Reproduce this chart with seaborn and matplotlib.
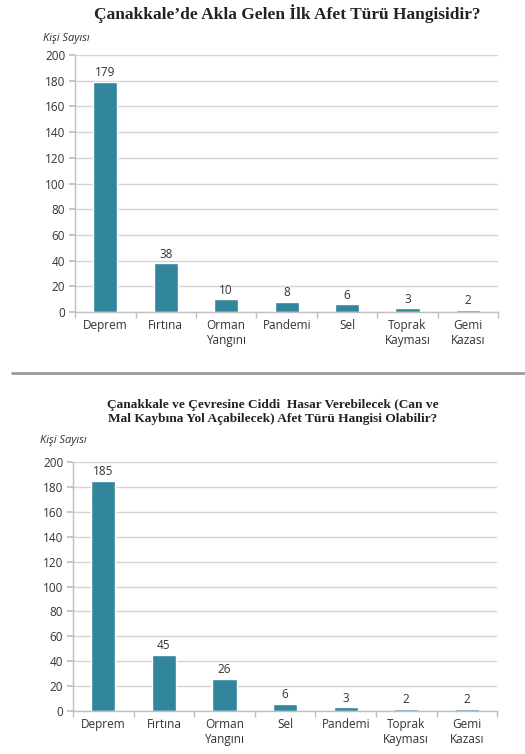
import pandas as pd
import matplotlib.pyplot as plt
import seaborn as sns
import numpy as np

# ilk grafik
afet1 = ['Deprem', 'Fırtına', 'Orman\nYangını', 'Pandemi', 'Sel', 'Toprak\nKayması', 'Gemi\nKazası']
sayi1 = [179, 38, 10, 8, 6, 3, 2]

# ikinci grafik
afet2 = ['Deprem', 'Fırtına', 'Orman\nYangını', 'Sel', 'Pandemi', 'Toprak\nKayması', 'Gemi\nKazası']
sayi2 = [185, 45, 26, 6, 3, 2, 2]

baslik1 = 'Çanakkale’de Akla Gelen İlk Afet Türü Hangisidir?'
baslik2 = ('Çanakkale ve Çevresine Ciddi  Hasar Verebilecek (Can ve\n'
           'Mal Kaybına Yol Açabilecek) Afet Türü Hangisi Olabilir?')

sns.set_theme(style="white")
plt.rcParams['font.family'] = ['Open Sans', 'DejaVu Sans']

bar_color = '#31869b'
grid_color = '#d4d4d4'
text_color = '#333333'

fig = plt.figure(figsize=(5.25, 7.54), dpi=100)
ax1 = fig.add_axes([0.143, 0.586, 0.806, 0.341])
ax2 = fig.add_axes([0.139, 0.057, 0.808, 0.330])


def draw(ax, cats, vals):
    df = pd.DataFrame({'afet': cats, 'sayi': vals})
    sns.barplot(data=df, x='afet', y='sayi', color=bar_color, width=0.4,
                saturation=1, ax=ax)
    ax.bar_label(ax.containers[0], padding=2, fontsize=8.5, color=text_color)
    ax.set_ylim(0, 200)
    ax.set_xlim(-0.5, len(cats) - 0.5)
    ax.set_yticks(np.arange(0, 201, 20))
    ax.yaxis.grid(True, color=grid_color, linewidth=1)
    ax.set_axisbelow(True)
    ax.set_xlabel('')
    ax.set_ylabel('')
    for s in ['top', 'right']:
        ax.spines[s].set_visible(False)
    for s in ['left', 'bottom']:
        ax.spines[s].set_color('#bfbfbf')
        ax.spines[s].set_linewidth(1)
    ax.set_xticks(np.arange(-0.5, len(cats), 1), minor=True)
    ax.tick_params(axis='x', which='major', length=0, pad=5,
                   labelsize=8.5, labelcolor=text_color)
    ax.tick_params(axis='x', which='minor', length=4, color='#bfbfbf',
                   direction='out', bottom=True)
    ax.tick_params(axis='y', length=4, color='#bfbfbf', left=True,
                   labelsize=8.5, labelcolor=text_color, pad=3)


draw(ax1, afet1, sayi1)
draw(ax2, afet2, sayi2)

fig.text(0.547, 1 - 14 / 754, baslik1, ha='center', va='center',
         fontsize=12.5, fontweight='bold', family='Liberation Serif', color='#222222')
fig.text(0.52, 1 - 412 / 754, baslik2, ha='center', va='center',
         fontsize=9.6, fontweight='bold', family='Liberation Serif', color='#222222',
         linespacing=1.2)

fig.text(43 / 525, 1 - 38 / 754, 'Kişi Sayısı', ha='left', va='center',
         fontsize=8, style='italic', color=text_color)
fig.text(40 / 525, 1 - 440 / 754, 'Kişi Sayısı', ha='left', va='center',
         fontsize=8, style='italic', color=text_color)

# ayırıcı çizgi
fig.add_artist(plt.Line2D([12 / 525, 1.0], [1 - 373 / 754, 1 - 373 / 754],
                          color='#9a9a9a', linewidth=2))

plt.savefig('out.png', dpi=100)
plt.close()
